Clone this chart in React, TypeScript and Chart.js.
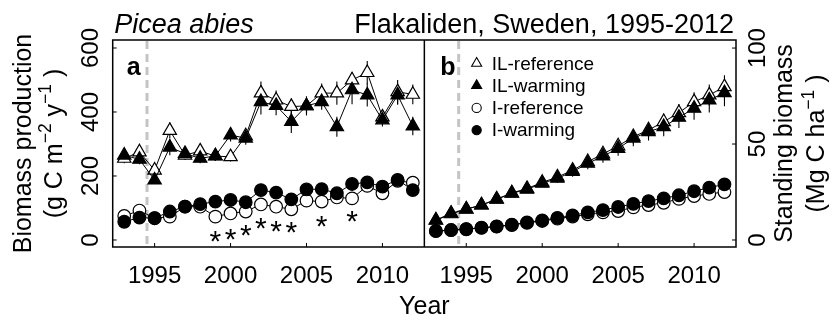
import React, { useEffect, useRef } from "react";
import { Chart, registerables } from "chart.js";

Chart.register(...registerables);

const FONT = '"Liberation Sans", Arial, Helvetica, sans-serif';

// ---------- data ----------
const YEARS = [1993, 1994, 1995, 1996, 1997, 1998, 1999, 2000, 2001, 2002, 2003, 2004, 2005, 2006, 2007, 2008, 2009, 2010, 2011, 2012];
const X_TICKS = [1995, 2000, 2005, 2010];
const X_MIN = 1992.24;
const X_MAX = 2012.76;
const TREATMENT_START = 1994.5;

const A_Y_TICKS = [0, 200, 400, 600];
const A_Y_MIN = -21.9;
const A_Y_MAX = 625;
const B_Y_TICKS = [0, 50, 100];
const B_Y_MIN = -3.65;
const B_Y_MAX = 104.2;

const SERIES_NAMES = ["IL-reference", "IL-warming", "I-reference", "I-warming"];

// Panel a: biomass production (g C m-2 y-1)
const A_IL_REF = [255, 275, 218, 342, 265, 278, 262, 260, 325, 459, 437, 417, 419, 459, 459, 500, 523, 384, 463, 455];
const A_IL_REF_SE = [15, 22, 15, 25, 15, 18, 15, 15, 20, 36, 30, 25, 25, 30, 36, 25, 36, 22, 37, 31];
const A_IL_WARM = [265, 252, 187, 290, 270, 255, 263, 328, 318, 432, 420, 370, 419, 432, 354, 469, 453, 375, 453, 356];
const A_IL_WARM_SE = [15, 15, 12, 25, 15, 15, 15, 20, 20, 40, 30, 36, 30, 25, 31, 45, 36, 20, 30, 29];
const A_I_REF = [75, 92, 68, 73, 104, 104, 73, 83, 89, 111, 104, 96, 123, 120, 133, 130, 169, 146, 185, 179];
const A_I_REF_SE = [8, 10, 8, 9, 10, 9, 8, 9, 9, 10, 9, 9, 10, 10, 11, 10, 12, 11, 12, 12];
const A_I_WARM = [57, 70, 68, 89, 104, 112, 120, 125, 118, 156, 148, 127, 158, 159, 146, 175, 180, 167, 188, 156];
const A_I_WARM_SE = [8, 9, 8, 9, 10, 10, 11, 11, 10, 12, 12, 11, 12, 12, 11, 13, 13, 12, 13, 12];

const STAR_YEARS = [1999, 2000, 2001, 2002, 2003, 2004, 2006, 2008];
const STAR_Y = [19, 26, 37, 59, 50, 47, 66, 80];

// Panel b: standing biomass (Mg C ha-1)
const B_IL_REF = [10.2, 13.6, 16.0, 18.2, 21.3, 24.5, 26.8, 30.0, 32.8, 36.3, 40.8, 44.8, 49.0, 53.8, 57.3, 61.6, 66.3, 72.0, 75.5, 79.8];
const B_IL_REF_SE = [0.8, 0.9, 1.0, 1.1, 1.3, 1.5, 1.7, 1.9, 2.1, 2.4, 2.7, 3.0, 3.3, 3.6, 3.9, 4.2, 4.6, 5.0, 5.5, 6.0];
const B_IL_WARM = [10.4, 13.9, 16.1, 18.2, 21.2, 24.3, 26.4, 29.5, 32.1, 35.6, 39.9, 43.7, 47.7, 53.0, 56.4, 59.0, 63.9, 68.6, 72.9, 76.7];
const B_IL_WARM_SE = [0.8, 0.9, 1.0, 1.2, 1.4, 1.6, 1.8, 2.0, 2.3, 2.6, 3.0, 3.4, 3.8, 4.2, 4.6, 5.0, 5.5, 6.0, 6.5, 7.0];
const B_I_REF = [4.6, 5.1, 5.6, 6.3, 7.0, 7.8, 8.9, 9.9, 11.1, 12.2, 13.4, 14.4, 15.1, 17.0, 18.2, 19.4, 21.4, 22.9, 24.0, 25.0];
const B_I_REF_SE = [0.3, 0.3, 0.3, 0.4, 0.4, 0.4, 0.5, 0.5, 0.6, 0.6, 0.7, 0.7, 0.8, 0.8, 0.9, 0.9, 1.0, 1.0, 1.1, 1.1];
const B_I_WARM = [4.7, 5.2, 5.7, 6.4, 7.1, 8.0, 9.2, 10.2, 11.5, 12.8, 14.4, 15.6, 17.2, 18.8, 20.3, 21.7, 23.3, 25.4, 27.3, 29.0];
const B_I_WARM_SE = [0.3, 0.3, 0.3, 0.4, 0.4, 0.5, 0.5, 0.6, 0.6, 0.7, 0.7, 0.8, 0.9, 0.9, 1.0, 1.1, 1.1, 1.2, 1.3, 1.4];

// ---------- helpers ----------
const SPAN = X_MAX - X_MIN; // panel b is drawn one panel-width to the right

type SeriesDef = {
  name: string;
  a: number[];
  aSe: number[];
  b: number[];
  bSe: number[];
  shape: "triangle" | "circle";
  filled: boolean;
};

const SERIES: SeriesDef[] = [
  { name: SERIES_NAMES[0], a: A_IL_REF, aSe: A_IL_REF_SE, b: B_IL_REF, bSe: B_IL_REF_SE, shape: "triangle", filled: false },
  { name: SERIES_NAMES[1], a: A_IL_WARM, aSe: A_IL_WARM_SE, b: B_IL_WARM, bSe: B_IL_WARM_SE, shape: "triangle", filled: true },
  { name: SERIES_NAMES[2], a: A_I_REF, aSe: A_I_REF_SE, b: B_I_REF, bSe: B_I_REF_SE, shape: "circle", filled: false },
  { name: SERIES_NAMES[3], a: A_I_WARM, aSe: A_I_WARM_SE, b: B_I_WARM, bSe: B_I_WARM_SE, shape: "circle", filled: true },
];

const TRI_R = 7.7;
const CIRC_R = 6.3;

function makeDatasets() {
  const ds: any[] = [];
  SERIES.forEach((s) => {
    const common = {
      label: s.name,
      borderColor: "#000",
      borderWidth: 1,
      backgroundColor: s.filled ? "#000" : "#fff",
      pointStyle: s.shape,
      pointRadius: s.shape === "triangle" ? TRI_R : CIRC_R,
      pointBorderWidth: 1.2,
      pointHoverRadius: s.shape === "triangle" ? TRI_R : CIRC_R,
      tension: 0,
      order: s.filled ? 1 : 2,
    };
    ds.push({ ...common, yAxisID: "yA", data: YEARS.map((yr, i) => ({ x: yr, y: s.a[i] })) });
    ds.push({ ...common, yAxisID: "yB", data: YEARS.map((yr, i) => ({ x: yr + SPAN, y: s.b[i] })) });
  });
  return ds;
}

function line(ctx: CanvasRenderingContext2D, x1: number, y1: number, x2: number, y2: number) {
  ctx.beginPath();
  ctx.moveTo(x1, y1);
  ctx.lineTo(x2, y2);
  ctx.stroke();
}

type Run = { text: string; sup?: boolean };

function drawVerticalRuns(ctx: CanvasRenderingContext2D, runs: Run[], baselineX: number, centerY: number, size: number) {
  ctx.save();
  ctx.translate(baselineX, centerY);
  ctx.rotate(-Math.PI / 2);
  ctx.textAlign = "left";
  ctx.textBaseline = "alphabetic";
  const supSize = size * 0.7;
  let total = 0;
  runs.forEach((r) => {
    ctx.font = `${r.sup ? supSize : size}px ${FONT}`;
    total += ctx.measureText(r.text).width;
  });
  let x = -total / 2;
  runs.forEach((r) => {
    ctx.font = `${r.sup ? supSize : size}px ${FONT}`;
    ctx.fillText(r.text, x, r.sup ? -size * 0.42 : 0);
    x += ctx.measureText(r.text).width;
  });
  ctx.restore();
}

function drawMarker(ctx: CanvasRenderingContext2D, shape: string, filled: boolean, cx: number, cy: number, r: number) {
  ctx.beginPath();
  if (shape === "triangle") {
    for (let k = 0; k < 3; k++) {
      const a = (k * 2 * Math.PI) / 3;
      const px = cx + Math.sin(a) * r;
      const py = cy - Math.cos(a) * r;
      if (k === 0) ctx.moveTo(px, py);
      else ctx.lineTo(px, py);
    }
    ctx.closePath();
  } else {
    ctx.arc(cx, cy, r, 0, Math.PI * 2);
  }
  ctx.fillStyle = filled ? "#000" : "#fff";
  ctx.fill();
  ctx.lineWidth = 1.1;
  ctx.strokeStyle = "#000";
  ctx.stroke();
}

const decorPlugin = {
  id: "decor",
  beforeDatasetsDraw(chart: any) {
    const { ctx, chartArea: ca, scales } = chart;
    const x = scales.x;
    ctx.save();
    ctx.beginPath();
    ctx.rect(ca.left, ca.top, ca.width, ca.height);
    ctx.clip();
    // treatment start lines
    ctx.strokeStyle = "#C4C4C4";
    ctx.lineWidth = 3;
    ctx.setLineDash([8, 5]);
    [0, SPAN].forEach((off) => {
      const px = x.getPixelForValue(TREATMENT_START + off);
      line(ctx, px, ca.top + 1, px, ca.bottom);
    });
    ctx.setLineDash([]);
    // error bars
    ctx.strokeStyle = "#000";
    ctx.lineWidth = 1.1;
    SERIES.forEach((s) => {
      YEARS.forEach((yr, i) => {
        const pxA = x.getPixelForValue(yr);
        line(ctx, pxA, scales.yA.getPixelForValue(s.a[i] - s.aSe[i]), pxA, scales.yA.getPixelForValue(s.a[i] + s.aSe[i]));
        const pxB = x.getPixelForValue(yr + SPAN);
        line(ctx, pxB, scales.yB.getPixelForValue(s.b[i] - s.bSe[i]), pxB, scales.yB.getPixelForValue(s.b[i] + s.bSe[i]));
      });
    });
    ctx.restore();
  },
  afterDraw(chart: any) {
    const { ctx, chartArea: ca, scales } = chart;
    const x = scales.x;
    const yA = scales.yA;
    const yB = scales.yB;
    ctx.save();
    ctx.strokeStyle = "#000";
    ctx.lineWidth = 1.5;
    ctx.strokeRect(ca.left, ca.top, ca.width, ca.height);
    const divX = x.getPixelForValue(X_MAX);
    line(ctx, divX, ca.top, divX, ca.bottom);

    // inward ticks
    ctx.lineWidth = 1;
    x.ticks.forEach((t: any) => {
      const px = x.getPixelForValue(t.value);
      line(ctx, px, ca.bottom, px, ca.bottom - 4);
    });
    yA.ticks.forEach((t: any) => {
      const py = yA.getPixelForValue(t.value);
      line(ctx, ca.left, py, ca.left + 4, py);
    });
    yB.ticks.forEach((t: any) => {
      const py = yB.getPixelForValue(t.value);
      line(ctx, ca.right, py, ca.right - 4, py);
    });

    ctx.fillStyle = "#000";
    ctx.textBaseline = "alphabetic";
    // titles
    ctx.font = `italic 27px ${FONT}`;
    ctx.textAlign = "left";
    ctx.fillText("Picea abies", ca.left + 1.5, 33);
    ctx.font = `27px ${FONT}`;
    ctx.textAlign = "right";
    ctx.fillText("Flakaliden, Sweden, 1995-2012", ca.right - 2, 33);

    // x axis title
    ctx.font = `25px ${FONT}`;
    ctx.textAlign = "center";
    ctx.fillText("Year", (ca.left + ca.right) / 2, 314);

    // y axis titles
    const cy = (ca.top + ca.bottom) / 2;
    drawVerticalRuns(ctx, [{ text: "Biomass production" }], 31, cy, 25);
    drawVerticalRuns(
      ctx,
      [{ text: "(g C m" }, { text: "\u22122", sup: true }, { text: " y" }, { text: "\u22121", sup: true }, { text: " )" }],
      61.5,
      cy,
      25
    );
    drawVerticalRuns(ctx, [{ text: "Standing biomass" }], 792, cy, 25);
    drawVerticalRuns(ctx, [{ text: "(Mg C ha" }, { text: "\u22121", sup: true }, { text: " )" }], 824, cy, 25);

    // panel letters
    ctx.font = `bold 25px ${FONT}`;
    ctx.textAlign = "left";
    ctx.fillText("a", ca.left + 14, 75);
    ctx.fillText("b", divX + 16, 75);

    // significance asterisks
    ctx.font = `30px ${FONT}`;
    ctx.textAlign = "center";
    STAR_YEARS.forEach((yr, i) => {
      ctx.fillText("*", x.getPixelForValue(yr), yA.getPixelForValue(STAR_Y[i]) + 0.57 * 30);
    });

    // legend
    const lx = divX + 52.3;
    const tx = divX + 67.3;
    ctx.font = `19px ${FONT}`;
    ctx.textAlign = "left";
    ctx.textBaseline = "middle";
    SERIES.forEach((s, i) => {
      const ly = 63.3 + i * 22.3;
      drawMarker(ctx, s.shape, s.filled, lx, ly, s.shape === "triangle" ? 5.8 : 4.6);
      ctx.fillStyle = "#000";
      ctx.fillText(s.name, tx, ly + 1);
    });
    ctx.restore();
  },
};

export default function App() {
  const canvasRef = useRef<HTMLCanvasElement | null>(null);

  useEffect(() => {
    if (!canvasRef.current) return;
    const tickFont = { family: FONT, size: 24 };
    const chart = new Chart(canvasRef.current, {
      type: "line",
      data: { datasets: makeDatasets() },
      options: {
        responsive: false,
        animation: false,
        devicePixelRatio: 1,
        layout: { padding: { top: 40, left: 0, right: 0, bottom: 0 } },
        plugins: {
          legend: { display: false },
          tooltip: { enabled: false },
          title: { display: false },
        },
        events: [],
        scales: {
          x: {
            type: "linear",
            min: X_MIN,
            max: X_MAX + SPAN,
            grid: { display: false, drawTicks: false },
            border: { display: false },
            afterBuildTicks: (s: any) => {
              s.ticks = [...X_TICKS.map((v) => ({ value: v })), ...X_TICKS.map((v) => ({ value: v + SPAN }))];
            },
            afterFit: (s: any) => {
              s.height = 75;
            },
            ticks: {
              autoSkip: false,
              maxRotation: 0,
              minRotation: 0,
              padding: 15,
              color: "#000",
              font: tickFont,
              callback: (v: any) => String(Math.round(v > X_MAX ? v - SPAN : v)),
            },
          },
          yA: {
            type: "linear",
            position: "left",
            min: A_Y_MIN,
            max: A_Y_MAX,
            grid: { display: false, drawTicks: false },
            border: { display: false },
            afterBuildTicks: (s: any) => {
              s.ticks = A_Y_TICKS.map((v) => ({ value: v }));
            },
            afterFit: (s: any) => {
              s.width = 112.7;
            },
            ticks: {
              minRotation: 90,
              maxRotation: 90,
              crossAlign: "center",
              padding: 1,
              color: "#000",
              font: tickFont,
              callback: (v: any) => String(v),
            },
          },
          yB: {
            type: "linear",
            position: "right",
            min: B_Y_MIN,
            max: B_Y_MAX,
            grid: { display: false, drawTicks: false },
            border: { display: false },
            afterBuildTicks: (s: any) => {
              s.ticks = B_Y_TICKS.map((v) => ({ value: v }));
            },
            afterFit: (s: any) => {
              s.width = 99;
            },
            ticks: {
              minRotation: 90,
              maxRotation: 90,
              crossAlign: "center",
              padding: 2.3,
              color: "#000",
              font: tickFont,
              callback: (v: any) => String(v),
            },
          },
        },
      } as any,
      plugins: [decorPlugin],
    });
    return () => chart.destroy();
  }, []);

  return (
    <div style={{ position: "absolute", left: 0, top: 0, width: 835, height: 322, background: "#fff" }}>
      <canvas ref={canvasRef} width={835} height={322} style={{ display: "block" }} />
    </div>
  );
}
